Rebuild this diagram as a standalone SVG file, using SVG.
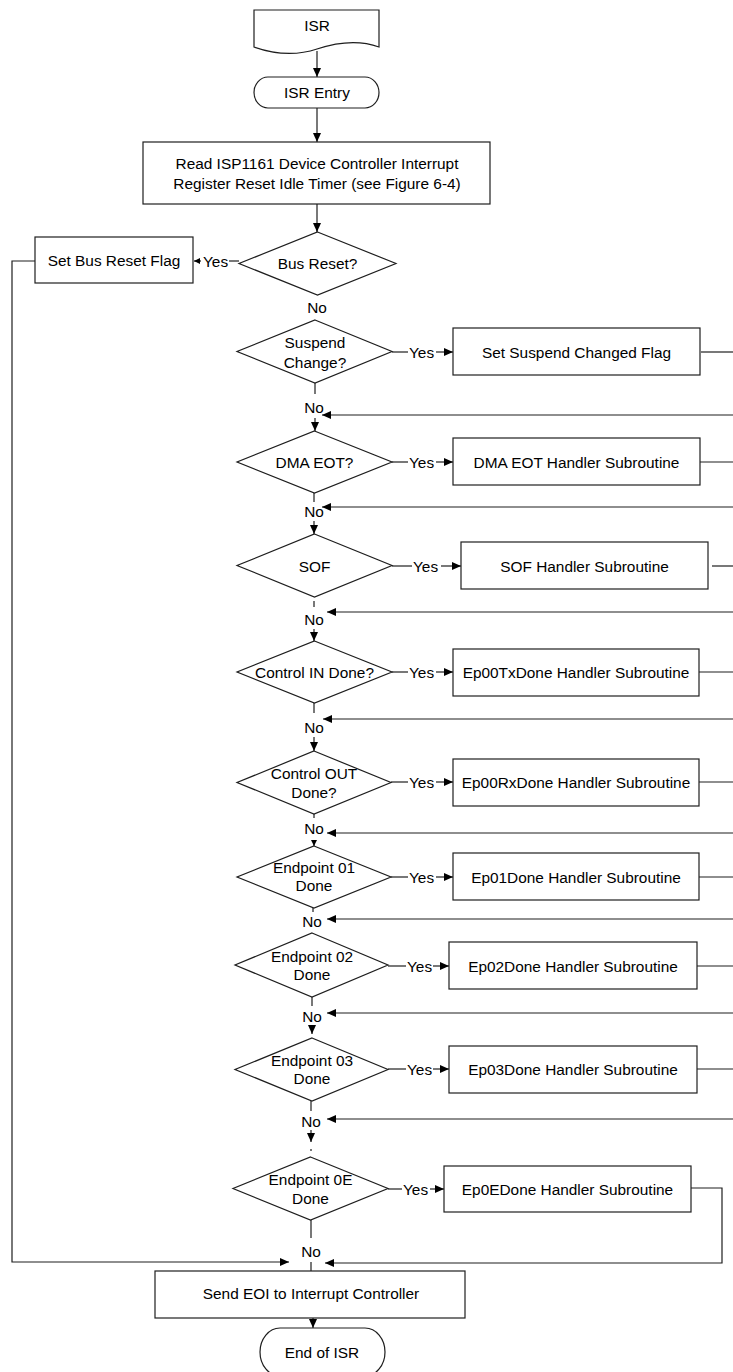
<svg xmlns="http://www.w3.org/2000/svg" width="733" height="1372" viewBox="0 0 733 1372">
  <style>
    .shape { fill: #ffffff; stroke: #1e1e1e; stroke-width: 1.2; }
    .ln { fill: none; stroke: #1e1e1e; stroke-width: 1.2; }
    .t { font-family: "Liberation Sans", Arial, sans-serif; font-size: 15.4px; fill: #000; text-anchor: middle; dominant-baseline: central; }
    .ts { font-family: "Liberation Sans", Arial, sans-serif; font-size: 15.4px; fill: #000; text-anchor: start; dominant-baseline: central; }
  </style>
  <defs>
    <marker id="arr" markerUnits="userSpaceOnUse" markerWidth="9" markerHeight="8" refX="9" refY="4" orient="auto">
      <path d="M0,0 L9,4 L0,8 z" fill="#000"/>
    </marker>
    <marker id="arrS" markerUnits="userSpaceOnUse" markerWidth="6" markerHeight="6" refX="6" refY="3" orient="auto">
      <path d="M0,0 L6,3 L0,6 z" fill="#000"/>
    </marker>
  </defs>

  <rect width="733" height="1372" fill="#ffffff"/>

  <!-- connectors -->
  <g id="connectors">
    <!-- main spine -->
    <line class="ln" x1="317" y1="51" x2="317" y2="77" marker-end="url(#arr)"/>
    <line class="ln" x1="317" y1="108" x2="317" y2="142" marker-end="url(#arr)"/>
    <line class="ln" x1="317" y1="204" x2="317" y2="232" marker-end="url(#arr)"/>

    <!-- bus reset branch and long return on the left -->
    <line class="ln" x1="239" y1="261" x2="229" y2="261"/>
    <line class="ln" x1="201" y1="261" x2="194" y2="261" marker-end="url(#arrS)"/>
    <polyline class="ln" points="35,261 12,261 12,1262 289,1262" marker-end="url(#arr)"/>

    <!-- yes branches -->
    <line class="ln" x1="392" y1="352" x2="408" y2="352"/>
    <line class="ln" x1="436" y1="352" x2="453" y2="352" marker-end="url(#arr)"/>
    <line class="ln" x1="392" y1="462" x2="408" y2="462"/>
    <line class="ln" x1="436" y1="462" x2="453" y2="462" marker-end="url(#arr)"/>
    <line class="ln" x1="392" y1="566" x2="412" y2="566"/>
    <line class="ln" x1="441" y1="566" x2="461" y2="566" marker-end="url(#arr)"/>
    <line class="ln" x1="392" y1="672" x2="408" y2="672"/>
    <line class="ln" x1="436" y1="672" x2="453" y2="672" marker-end="url(#arr)"/>
    <line class="ln" x1="391" y1="782" x2="408" y2="782"/>
    <line class="ln" x1="436" y1="782" x2="453" y2="782" marker-end="url(#arr)"/>
    <line class="ln" x1="391" y1="877" x2="408" y2="877"/>
    <line class="ln" x1="436" y1="877" x2="453" y2="877" marker-end="url(#arr)"/>
    <line class="ln" x1="388" y1="966" x2="406" y2="966"/>
    <line class="ln" x1="433" y1="966" x2="449" y2="966" marker-end="url(#arr)"/>
    <line class="ln" x1="388" y1="1069" x2="406" y2="1069"/>
    <line class="ln" x1="433" y1="1069" x2="449" y2="1069" marker-end="url(#arr)"/>
    <line class="ln" x1="388" y1="1189" x2="402" y2="1189"/>
    <line class="ln" x1="430" y1="1189" x2="444" y2="1189" marker-end="url(#arr)"/>

    <!-- handler exits running off to the right -->
    <line class="ln" x1="701" y1="352" x2="733" y2="352"/>
    <line class="ln" x1="697" y1="462" x2="733" y2="462"/>
    <line class="ln" x1="712" y1="566" x2="733" y2="566"/>
    <line class="ln" x1="699" y1="672" x2="733" y2="672"/>
    <line class="ln" x1="699" y1="782" x2="733" y2="782"/>
    <line class="ln" x1="699" y1="877" x2="733" y2="877"/>
    <line class="ln" x1="697" y1="966" x2="733" y2="966"/>
    <line class="ln" x1="697" y1="1069" x2="733" y2="1069"/>
    <polyline class="ln" points="691,1188 722,1188 722,1263 325,1263" marker-end="url(#arr)"/>

    <!-- returns coming back from the right -->
    <line class="ln" x1="733" y1="415" x2="322" y2="415" marker-end="url(#arr)"/>
    <line class="ln" x1="733" y1="507" x2="322" y2="507" marker-end="url(#arr)"/>
    <line class="ln" x1="733" y1="612" x2="327" y2="612" marker-end="url(#arr)"/>
    <line class="ln" x1="733" y1="719" x2="323" y2="719" marker-end="url(#arr)"/>
    <line class="ln" x1="733" y1="833" x2="327" y2="833" marker-end="url(#arr)"/>
    <line class="ln" x1="733" y1="919" x2="327" y2="919" marker-end="url(#arr)"/>
    <line class="ln" x1="733" y1="1013" x2="327" y2="1013" marker-end="url(#arr)"/>
    <line class="ln" x1="733" y1="1119" x2="327" y2="1119" marker-end="url(#arr)"/>

    <!-- "No" exits below each decision -->
    <line class="ln" x1="315" y1="383" x2="315" y2="394"/>
    <line class="ln" x1="315" y1="418" x2="315" y2="431" marker-end="url(#arr)"/>
    <line class="ln" x1="314" y1="493" x2="314" y2="502"/>
    <line class="ln" x1="314" y1="521" x2="314" y2="534" marker-end="url(#arr)"/>
    <line class="ln" x1="314" y1="601" x2="314" y2="607"/>
    <line class="ln" x1="314" y1="629" x2="314" y2="641" marker-end="url(#arr)"/>
    <line class="ln" x1="314" y1="703" x2="314" y2="713"/>
    <line class="ln" x1="314" y1="737" x2="314" y2="751" marker-end="url(#arr)"/>
    <line class="ln" x1="314" y1="814" x2="314" y2="818"/>
    <line class="ln" x1="314" y1="840" x2="314" y2="846" marker-end="url(#arrS)"/>
    <line class="ln" x1="313" y1="908" x2="313" y2="912"/>
    <line class="ln" x1="312" y1="997" x2="312" y2="1006"/>
    <line class="ln" x1="312" y1="1025" x2="312" y2="1034" marker-end="url(#arr)"/>
    <line class="ln" x1="311" y1="1101" x2="311" y2="1111"/>
    <line class="ln" x1="311" y1="1130" x2="311" y2="1142" marker-end="url(#arr)"/>
    <line class="ln" x1="311" y1="1149" x2="311" y2="1151"/>
    <line class="ln" x1="311" y1="1220" x2="311" y2="1238"/>
    <line class="ln" x1="311" y1="1262" x2="311" y2="1280" marker-end="url(#arr)"/>
    <line class="ln" x1="313" y1="1318" x2="313" y2="1328" marker-end="url(#arr)"/>
  </g>

  <!-- branch labels -->
  <g id="labels">
    <text class="ts" x="203" y="261">Yes</text>
    <text class="ts" x="409" y="352">Yes</text>
    <text class="ts" x="409" y="462">Yes</text>
    <text class="ts" x="413" y="566">Yes</text>
    <text class="ts" x="409" y="672">Yes</text>
    <text class="ts" x="409" y="782">Yes</text>
    <text class="ts" x="409" y="877">Yes</text>
    <text class="ts" x="407" y="966">Yes</text>
    <text class="ts" x="407" y="1069">Yes</text>
    <text class="ts" x="403" y="1189">Yes</text>
    <text class="t" x="317" y="307">No</text>
    <text class="t" x="314" y="407">No</text>
    <text class="t" x="314" y="511">No</text>
    <text class="t" x="314" y="619">No</text>
    <text class="t" x="314" y="727">No</text>
    <text class="t" x="314" y="828">No</text>
    <text class="t" x="312" y="921">No</text>
    <text class="t" x="312" y="1016">No</text>
    <text class="t" x="311" y="1121">No</text>
    <text class="t" x="311" y="1251">No</text>
  </g>

  <!-- nodes -->
  <g id="isr">
    <path class="shape" d="M254,10 H379 V47 C360,40 338,42 317,49 C296,56 274,54 254,47 Z"/>
    <text class="t" x="317" y="25">ISR</text>
  </g>
  <g id="isr-entry">
    <rect class="shape" x="254" y="77" width="125" height="31" rx="14" ry="15.5"/>
    <text class="t" x="317" y="92.5">ISR Entry</text>
  </g>
  <g id="read-interrupt">
    <rect class="shape" x="143" y="142" width="347" height="62"/>
    <text class="t" x="317" y="163">Read ISP1161 Device Controller Interrupt</text>
    <text class="t" x="317" y="183">Register Reset Idle Timer (see Figure 6-4)</text>
  </g>
  <g id="bus-reset">
    <polygon class="shape" points="317.5,232 396,263.5 317.5,295 239,263.5"/>
    <text class="t" x="317.5" y="263">Bus Reset?</text>
  </g>
  <g id="set-bus-reset">
    <rect class="shape" x="35" y="237" width="158" height="46"/>
    <text class="t" x="114" y="260">Set Bus Reset Flag</text>
  </g>

  <g id="suspend-change">
    <polygon class="shape" points="315,320 392,351.5 315,383 237,351.5"/>
    <text class="t" x="315" y="342">Suspend</text>
    <text class="t" x="315" y="362">Change?</text>
  </g>
  <g id="set-suspend">
    <rect class="shape" x="453" y="328" width="247" height="47"/>
    <text class="t" x="576.5" y="352">Set Suspend Changed Flag</text>
  </g>

  <g id="dma-eot">
    <polygon class="shape" points="314.5,431 392,462 314.5,493 237,462"/>
    <text class="t" x="314.5" y="462">DMA EOT?</text>
  </g>
  <g id="dma-eot-handler">
    <rect class="shape" x="453" y="438" width="247" height="47"/>
    <text class="t" x="576.5" y="462">DMA EOT Handler Subroutine</text>
  </g>

  <g id="sof">
    <polygon class="shape" points="314.5,534 392,565.5 314.5,597 237,565.5"/>
    <text class="t" x="314.5" y="566">SOF</text>
  </g>
  <g id="sof-handler">
    <rect class="shape" x="461" y="542" width="247" height="47"/>
    <text class="t" x="584.5" y="566">SOF Handler Subroutine</text>
  </g>

  <g id="control-in">
    <polygon class="shape" points="314.5,641 392,672 314.5,703 237,672"/>
    <text class="t" x="314.5" y="672">Control IN Done?</text>
  </g>
  <g id="ep00tx-handler">
    <rect class="shape" x="453" y="649" width="246" height="47"/>
    <text class="t" x="576" y="672">Ep00TxDone Handler Subroutine</text>
  </g>

  <g id="control-out">
    <polygon class="shape" points="314,751 391,782.5 314,814 237,782.5"/>
    <text class="t" x="314" y="773">Control OUT</text>
    <text class="t" x="314" y="792">Done?</text>
  </g>
  <g id="ep00rx-handler">
    <rect class="shape" x="453" y="759" width="246" height="47"/>
    <text class="t" x="576" y="782">Ep00RxDone Handler Subroutine</text>
  </g>

  <g id="endpoint-01">
    <polygon class="shape" points="314,846 391,877 314,908 237,877"/>
    <text class="t" x="314" y="867">Endpoint 01</text>
    <text class="t" x="314" y="885">Done</text>
  </g>
  <g id="ep01-handler">
    <rect class="shape" x="453" y="853" width="246" height="47"/>
    <text class="t" x="576" y="877">Ep01Done Handler Subroutine</text>
  </g>

  <g id="endpoint-02">
    <polygon class="shape" points="312,933 388,965 312,997 235,965"/>
    <text class="t" x="312" y="956">Endpoint 02</text>
    <text class="t" x="312" y="974">Done</text>
  </g>
  <g id="ep02-handler">
    <rect class="shape" x="449" y="942" width="248" height="47"/>
    <text class="t" x="573" y="966">Ep02Done Handler Subroutine</text>
  </g>

  <g id="endpoint-03">
    <polygon class="shape" points="312,1038 388,1069.5 312,1101 235,1069.5"/>
    <text class="t" x="312" y="1060">Endpoint 03</text>
    <text class="t" x="312" y="1078">Done</text>
  </g>
  <g id="ep03-handler">
    <rect class="shape" x="449" y="1046" width="248" height="47"/>
    <text class="t" x="573" y="1069">Ep03Done Handler Subroutine</text>
  </g>

  <g id="endpoint-0e">
    <polygon class="shape" points="310.5,1157 388,1188.5 310.5,1220 233,1188.5"/>
    <text class="t" x="310.5" y="1179">Endpoint 0E</text>
    <text class="t" x="310.5" y="1198">Done</text>
  </g>
  <g id="ep0e-handler">
    <rect class="shape" x="444" y="1166" width="247" height="46"/>
    <text class="t" x="567.5" y="1189">Ep0EDone Handler Subroutine</text>
  </g>

  <g id="send-eoi">
    <rect class="shape" x="155" y="1271" width="310" height="47"/>
    <text class="t" x="311" y="1293">Send EOI to Interrupt Controller</text>
  </g>
  <g id="end-of-isr">
    <rect class="shape" x="260" y="1328" width="125" height="48" rx="20" ry="24"/>
    <text class="t" x="322" y="1352">End of ISR</text>
  </g>
</svg>
